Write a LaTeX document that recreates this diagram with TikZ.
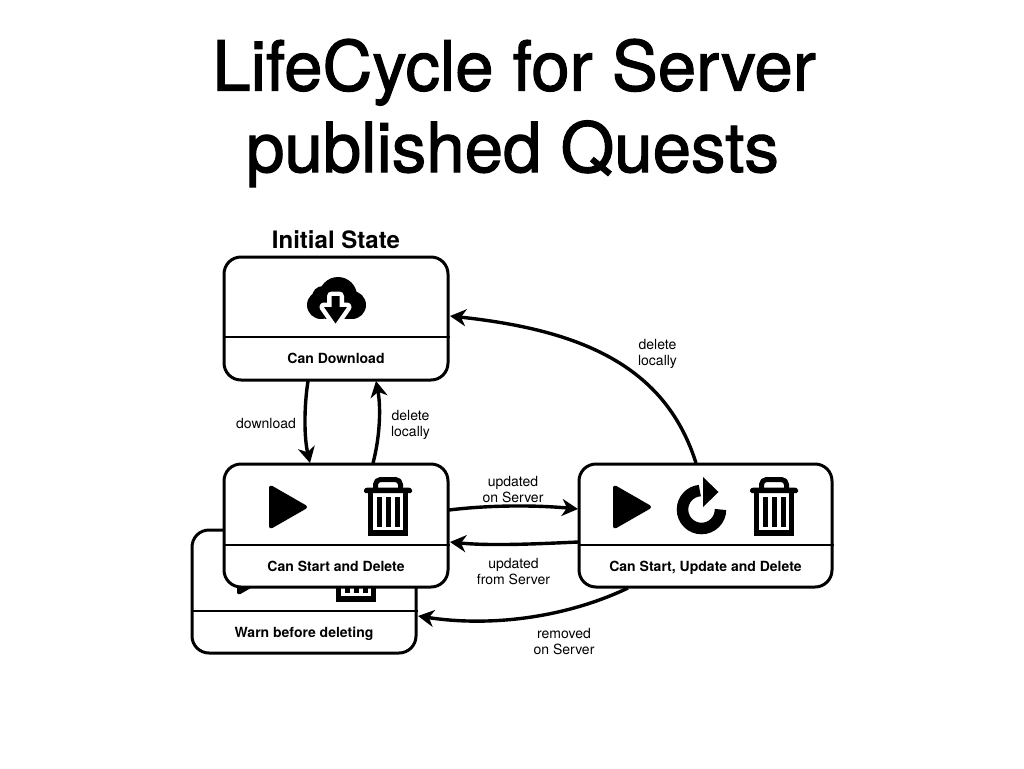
\documentclass[tikz,border=0pt]{standalone}
\usepackage{fontspec}
\setmainfont{TeX Gyre Heros}
\newfontfamily\titlefont[FakeBold=1.6]{TeX Gyre Heros}
\usetikzlibrary{arrows.meta}
\tikzset{
  statebox/.style={draw=black,fill=white,line width=3pt,rounded corners=17pt,minimum height=123pt,inner sep=0pt},
  divider/.style={line width=2pt,draw=black},
  flow/.style={line width=3.4pt,draw=black,-{Stealth[length=16pt,width=17pt,inset=5pt]}},
  boxlabel/.style={font=\fontsize{14}{16}\selectfont\bfseries,inner sep=0pt},
  edgelabel/.style={font=\fontsize{14}{16}\selectfont,align=center,inner sep=0pt},
  titletext/.style={font=\titlefont\fontsize{69}{82}\selectfont,inner sep=0pt,anchor=base}
}
\newcommand{\playicon}[2]{%
  \begin{scope}[shift={(#1,#2)}]
    \filldraw[fill=black,draw=black,line width=4pt,line join=round] (2,2.5) -- (36,22) -- (2,41.5) -- cycle;
  \end{scope}}
\newcommand{\trashicon}[2]{%
  \begin{scope}[shift={(#1,#2)}]
    \draw[line width=5pt,line join=round,rounded corners=5pt] (11.5,13) -- (11.5,2.5) -- (36.5,2.5) -- (36.5,13);
    \fill[rounded corners=1.5pt] (0,11.5) -- (3,10.5) -- (45,10.5) -- (48,11.5) -- (48,16) -- (0,16) -- cycle;
    \draw[line width=5.5pt,line join=miter] (6.5,14) -- (6.5,56) -- (41.5,56) -- (41.5,14);
    \fill (12.7,20) rectangle (17.7,50);
    \fill (22,20) rectangle (26.5,50);
    \fill (30.5,20) rectangle (35.5,50);
  \end{scope}}
\begin{document}
\begin{tikzpicture}[x=1pt,y=-1pt]
\useasboundingbox (0,0) rectangle (1024,768);
\fill[white] (0,0) rectangle (1024,768);

\node[titletext] (title1) at (514,90.5) {LifeCycle for Server};
\node[titletext] (title2) at (512.5,172) {published Quests};

% Warn box (behind)
\node[statebox,minimum width=224pt] (warn) at (304,591.5) {};
\playicon{237}{551}
\trashicon{332}{543}
\coordinate (warnline) at (0,611);
\draw[divider] (warn.west |- warnline) -- (warn.east |- warnline);
\node[boxlabel] (warnlabel) at (304,634) {Warn before deleting};

% Top box
\node[font=\fontsize{24}{26}\selectfont\bfseries,inner sep=0pt] (initial) at (336,240) {Initial State};
\node[statebox,minimum width=224pt] (top) at (336,318.5) {};
\coordinate (topline) at (0,337);
\draw[divider] (top.west |- topline) -- (top.east |- topline);
\node[boxlabel] (toplabel) at (336,358) {Can Download};
% cloud icon
\fill (321,305) circle (14pt);
\fill (352,305) circle (14pt);
\fill (338,296) circle (19pt);
\fill (323,297) circle (11pt);
\fill (325,300) rectangle (350,319);
\draw[white,line width=9pt,line join=round,fill=white] (331.5,296) -- (339.5,296) -- (339.5,307) -- (347,307) -- (335.5,323.5) -- (324,307) -- (331.5,307) -- cycle;
\fill[white] (300,319.5) rectangle (372,330);
\fill (331.5,296) -- (339.5,296) -- (339.5,307) -- (347,307) -- (335.5,323.5) -- (324,307) -- (331.5,307) -- cycle;

% Mid box
\node[statebox,minimum width=224pt] (mid) at (336,525.5) {};
\coordinate (midline) at (0,545);
\draw[divider] (mid.west |- midline) -- (mid.east |- midline);
\node[boxlabel] (midlabel) at (336,566) {Can Start and Delete};
\playicon{269}{485}
\trashicon{364}{477}

% Right box
\node[statebox,minimum width=253pt] (right) at (705.5,525.5) {};
\draw[divider] (right.west |- midline) -- (right.east |- midline);
\node[boxlabel] (rightlabel) at (705.5,568) {Can Start, Update and Delete};
\playicon{613}{485}
\trashicon{750}{477}
% reload icon
\draw[line width=11.5pt] (720.5,509.5) arc[start angle=0,end angle=-265,radius=19pt];
\fill (703,477) -- (718.5,492) -- (703,507) -- cycle;

% Connector end points
\coordinate (downS) at (308,381);
\coordinate (downE) at (310,463);
\coordinate (delS) at (373,463);
\coordinate (delE) at (376,381);
\coordinate (updS) at (449,510);
\coordinate (updE) at (578,509);
\coordinate (ufsS) at (578,542);
\coordinate (ufsE) at (450,542);
\coordinate (remS) at (628,588);
\coordinate (remE) at (418,616);
\coordinate (bigS) at (696,463);
\coordinate (bigE) at (450,316);

\draw[flow] (downS) .. controls (304,407) and (304,437) .. (downE);
\draw[flow] (delS) .. controls (380,437) and (381,407) .. (delE);
\draw[flow] (updS) .. controls (490,505) and (535,505) .. (updE);
\draw[flow] (ufsS) .. controls (535,544) and (490,546) .. (ufsE);
\draw[flow] (remS) .. controls (565,618) and (490,627) .. (remE);
\draw[flow] (bigS) .. controls (665,365) and (580,330) .. (bigE);

\node[edgelabel] (l1) at (266,423) {download};
\node[edgelabel] (l2) at (410.5,424.5) {delete\\locally};
\node[edgelabel] (l3) at (513,490) {updated\\on Server};
\node[edgelabel] (l4) at (513.5,572) {updated\\from Server};
\node[edgelabel] (l5) at (564,642) {removed\\on Server};
\node[edgelabel] (l6) at (657.5,353.5) {delete\\locally};
\end{tikzpicture}
\end{document}
